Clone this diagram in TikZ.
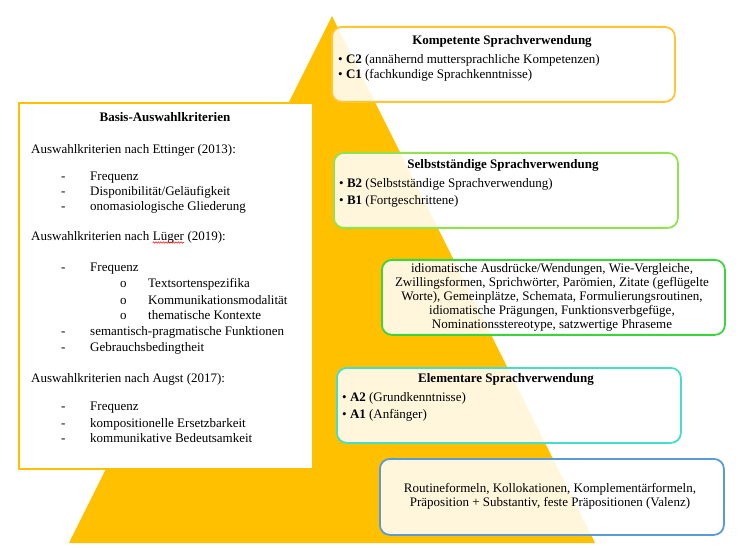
\documentclass[tikz,border=0pt]{standalone}
\usepackage{fontspec}
\setmainfont{Liberation Serif}
\usetikzlibrary{decorations.pathmorphing}
\definecolor{pyellow}{HTML}{FFC000}
\definecolor{ctop}{HTML}{FFC533}
\definecolor{cB}{RGB}{146,226,80}
\definecolor{cI}{RGB}{60,212,60}
\definecolor{cA}{RGB}{70,222,200}
\definecolor{cR}{RGB}{91,155,213}
\begin{document}
\begin{tikzpicture}[x=1pt,y=-1pt,
  lvl/.style={draw, line width=1.8pt, rounded corners=10pt, fill=white, fill opacity=0.86, text opacity=1, inner sep=0pt, anchor=north west},
  basisbox/.style={draw=pyellow, line width=1.8pt, fill=white, inner sep=0pt, anchor=north west},
  txt/.style={inner sep=0pt, font=\fontsize{13}{16}\selectfont},
  ctext/.style={inner sep=0pt, align=center, font=\fontsize{13}{14}\selectfont}]
\useasboundingbox (0,0) rectangle (753,548);
% pyramid
\coordinate (apex) at (332,16);
\coordinate (bl) at (69,543);
\coordinate (br) at (595,543);
\fill[pyellow] (apex) -- (br) -- (bl) -- cycle;
% left box
\node[basisbox, minimum width=294pt, minimum height=366pt] (basis) at (18,102) {};
% level boxes
\node[lvl, draw=ctop, minimum width=343pt, minimum height=75pt] (boxC) at (331,26) {};
\node[lvl, draw=cB, minimum width=344pt, minimum height=75pt] (boxB) at (333,152) {};
\node[lvl, draw=cI, minimum width=343pt, minimum height=75pt] (boxI) at (381,259) {};
\node[lvl, draw=cA, minimum width=344pt, minimum height=75pt] (boxA) at (336,367) {};
\node[lvl, draw=cR, minimum width=344pt, minimum height=76pt] (boxR) at (379,458) {};
% left box text
\node[txt, anchor=mid] (L0) at (165,119) {\textbf{Basis-Auswahlkriterien}};
\node[txt, anchor=mid west] (L1) at (31,151) {Auswahlkriterien nach Ettinger (2013):};
\foreach \y/\t [count=\i] in {178/Frequenz, 193/Disponibilität\slash Geläufigkeit, 208/onomasiologische Gliederung}{
  \node[txt, anchor=mid west] (ed\i) at (61,\y) {-};
  \node[txt, anchor=mid west] (et\i) at (90,\y) {\t};
}
\node[txt, anchor=mid west] (L2a) at (31,238) {Auswahlkriterien nach};
\node[txt, anchor=base west] (L2b) at ([xshift=3.25pt]L2a.base east) {Lüger};
\node[txt, anchor=base west] (L2c) at ([xshift=3.25pt]L2b.base east) {(2019):};
\draw[red, line width=0.5pt, decorate, decoration={snake, amplitude=0.7pt, segment length=2.5pt}]
  ([yshift=-2.2pt]L2b.base west) -- ([yshift=-2.2pt]L2b.base east);
\foreach \y/\t [count=\i] in {269/Frequenz, 333/semantisch-pragmatische Funktionen, 349/Gebrauchsbedingtheit}{
  \node[txt, anchor=mid west] (ld\i) at (61,\y) {-};
  \node[txt, anchor=mid west] (lt\i) at (90,\y) {\t};
}
\foreach \y/\t [count=\i] in {285/Textsortenspezifika, 302/Kommunikationsmodalität, 317/thematische Kontexte}{
  \node[txt, anchor=mid west] (lo\i) at (120,\y) {o};
  \node[txt, anchor=mid west] (ls\i) at (148,\y) {\t};
}
\node[txt, anchor=mid west] (L3) at (31,380) {Auswahlkriterien nach Augst (2017):};
\foreach \y/\t [count=\i] in {408/Frequenz, 425/kompositionelle Ersetzbarkeit, 440/kommunikative Bedeutsamkeit}{
  \node[txt, anchor=mid west] (ad\i) at (61,\y) {-};
  \node[txt, anchor=mid west] (at\i) at (90,\y) {\t};
}
% C box text
\node[txt, anchor=mid] (C0) at (502,42) {\textbf{Kompetente Sprachverwendung}};
\node[txt, anchor=mid west] (C2) at (338,61) {\textbullet\ \textbf{C2} (annähernd muttersprachliche Kompetenzen)};
\node[txt, anchor=mid west] (C1) at (338,76) {\textbullet\ \textbf{C1} (fachkundige Sprachkenntnisse)};
% B box text
\node[txt, anchor=mid] (B0) at (503,166) {\textbf{Selbstständige Sprachverwendung}};
\node[txt, anchor=mid west] (B2) at (339,185) {\textbullet\ \textbf{B2} (Selbstständige Sprachverwendung)};
\node[txt, anchor=mid west] (B1) at (339,202) {\textbullet\ \textbf{B1} (Fortgeschrittene)};
% idiom box text
\node[ctext] (I0) at (552,297) {idiomatische Ausdrücke/Wendungen, Wie-Vergleiche,\\
Zwillingsformen, Sprichwörter, Parömien, Zitate (geflügelte\\
Worte), Gemeinplätze, Schemata, Formulierungsroutinen,\\
idiomatische Prägungen, Funktionsverbgefüge,\\
Nominationsstereotype, satzwertige Phraseme};
% A box text
\node[txt, anchor=mid] (A0) at (506,380) {\textbf{Elementare Sprachverwendung}};
\node[txt, anchor=mid west] (A2) at (342,399) {\textbullet\ \textbf{A2} (Grundkenntnisse)};
\node[txt, anchor=mid west] (A1) at (342,416) {\textbullet\ \textbf{A1} (Anfänger)};
% bottom box text
\node[ctext] (R0) at (550,496) {Routineformeln, Kollokationen, Komplementärformeln,\\
Präposition + Substantiv, feste Präpositionen (Valenz)};
\end{tikzpicture}
\end{document}
